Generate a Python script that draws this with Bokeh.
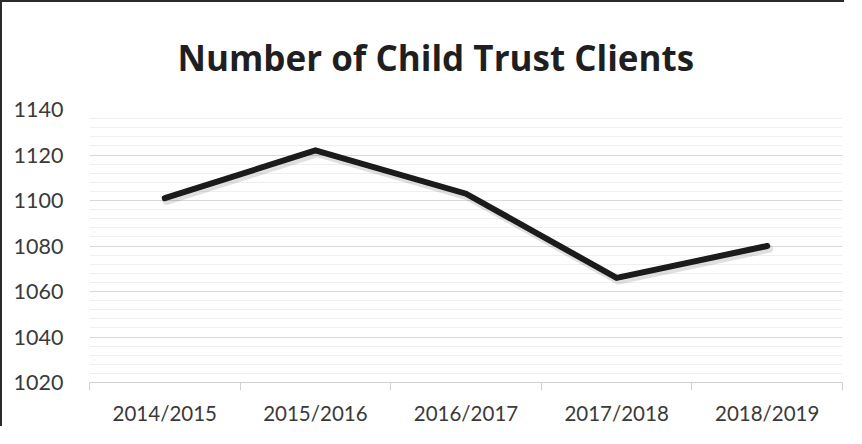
from bokeh.plotting import figure
from bokeh.models import FixedTicker, ColumnDataSource
from bokeh.transform import dodge
from bokeh.embed import file_html
from bokeh.resources import INLINE

title_text = "Number of Child Trust Clients"
categories = ["2014/2015", "2015/2016", "2016/2017", "2017/2018", "2018/2019"]
clients = [1101, 1122, 1103, 1066, 1080]
y_major = [1020, 1040, 1060, 1080, 1100, 1120, 1140]
y_minor = list(range(1020, 1141, 4))

xs = list(range(len(categories)))
src = ColumnDataSource(dict(x=xs, y=clients))

W, H = 844, 426
p = figure(width=W, height=H, output_backend="svg", toolbar_location=None,
           x_range=(-0.5, len(categories) - 0.5), y_range=(1020, 1140),
           min_border_left=87, min_border_right=4, min_border_top=107, min_border_bottom=46)
p.styles = {"border-left": "2px solid #2b2b2b", "border-top": "2px solid #2b2b2b"}
p.outline_line_color = None
p.background_fill_color = "white"
p.border_fill_color = "white"

p.title.text = title_text
p.title.align = "left"
p.title.offset = 88
p.title.text_font = "Open Sans"
p.title.text_font_size = "35px"
p.title.text_font_style = "bold"
p.title.text_color = "#1f1f1f"
p.title.standoff = 58

# x axis: labels at category centres, ticks at category boundaries
xa = p.xaxis[0]
xa.ticker = FixedTicker(ticks=xs, minor_ticks=[i - 0.5 for i in range(len(categories) + 1)])
xa.major_label_overrides = {i: c for i, c in enumerate(categories)}
xa.major_tick_line_color = None
xa.minor_tick_line_color = "#d0d0d0"
xa.minor_tick_in = 0
xa.minor_tick_out = 8
xa.axis_line_color = "#d0d0d0"
xa.major_label_text_font = "Lato"
xa.major_label_text_font_size = "20.5px"
xa.major_label_text_color = "#3a3a3a"
xa.major_label_standoff = 10

ya = p.yaxis[0]
ya.ticker = FixedTicker(ticks=y_major, minor_ticks=y_minor)
ya.axis_line_color = None
ya.major_tick_line_color = None
ya.minor_tick_line_color = None
ya.major_label_text_font = "Lato"
ya.major_label_text_font_size = "21.5px"
ya.major_label_text_color = "#3a3a3a"
ya.major_label_standoff = 20

p.xgrid.grid_line_color = None
p.ygrid.grid_line_color = "#d9d9d9"
p.ygrid.minor_grid_line_color = "#efefef"

# soft shadow under the line
p.line(dodge("x", 0.012), dodge("y", -1.2), source=src, line_width=8, line_color="black",
       line_alpha=0.12, line_join="miter", line_cap="round")
p.line("x", "y", source=src, line_width=6, line_color="#1c1a1b", line_join="miter", line_cap="round")

open("out.html", "w").write(file_html(p, INLINE))
